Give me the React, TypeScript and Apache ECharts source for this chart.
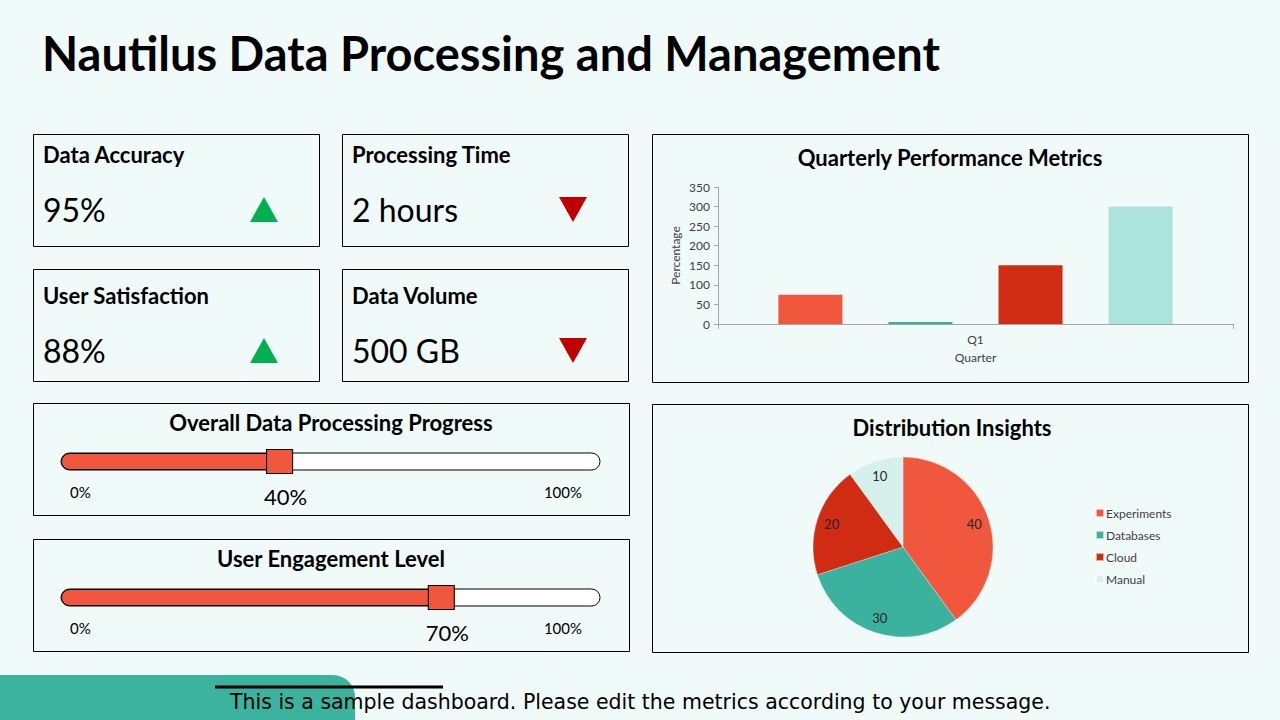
import React, { useEffect, useRef } from "react";
import * as echarts from "echarts";

const FONT = "Lato";

const pageTitle = "Nautilus Data Processing and Management";
const kpiTitles = ["Data Accuracy", "Processing Time", "User Satisfaction", "Data Volume"];
const kpiValues = ["95%", "2 hours", "88%", "500 GB"];
const kpiTrends = ["up", "down", "up", "down"];

const progressTitles = ["Overall Data Processing Progress", "User Engagement Level"];
const progressValues = [40, 70];

const barTitle = "Quarterly Performance Metrics";
const barCategories = ["Q1"];
const barSeriesNames = ["Metric 1", "Metric 2", "Metric 3", "Metric 4"];
const barValues = [75, 5, 150, 300];
const yTicks = { min: 0, max: 350, interval: 50 };

const pieTitle = "Distribution Insights";
const pieNames = ["Experiments", "Databases", "Cloud", "Manual"];
const pieValues = [40, 30, 20, 10];

const footerText = "This is a sample dashboard. Please edit the metrics according to your message.";

const ORANGE = "#F0573D";
const TEAL = "#3BB29E";
const DARKRED = "#D02C14";
const LIGHTTEAL = "#ACE3DA";
const PALE = "#D6F0EC";
const barColors = [ORANGE, TEAL, DARKRED, LIGHTTEAL];
const pieColors = [ORANGE, TEAL, DARKRED, PALE];
const BG = "#F0FAF8";

export default function App() {
  const ref = useRef<HTMLDivElement>(null);
  useEffect(() => {
    if (!ref.current) return;
    const chart = echarts.init(ref.current, undefined, { renderer: "svg" });

    const graphic: any[] = [];
    // page title
    graphic.push({
      type: "text",
      x: 42,
      y: 53,
      style: { text: pageTitle, font: `bold 47px ${FONT}`, fill: "#000", textVerticalAlign: "middle" },
    });
    // KPI cards
    const cardX = [33, 342];
    const cardY = [134, 269];
    const rowShift = [0, 6];
    kpiTitles.forEach((t, i) => {
      const x = cardX[i % 2];
      const row = Math.floor(i / 2);
      const y = cardY[row];
      const s = rowShift[row];
      graphic.push({
        type: "rect",
        shape: { x: x + 0.5, y: y + 0.5, width: 286, height: 112 },
        style: { fill: "none", stroke: "#000", lineWidth: 1 },
      });
      graphic.push({
        type: "text",
        x: x + 10,
        y: y + 20 + s,
        style: { text: t, font: `bold 22px ${FONT}`, fill: "#000", textVerticalAlign: "middle" },
      });
      graphic.push({
        type: "text",
        x: x + 10,
        y: y + 75 + s,
        style: { text: kpiValues[i], font: `32px ${FONT}`, fill: "#000", textVerticalAlign: "middle" },
      });
      const cx = x + 231;
      const pts =
        kpiTrends[i] === "up"
          ? [[cx - 14, y + 88 + s], [cx, y + 63 + s], [cx + 14, y + 88 + s]]
          : [[cx - 14, y + 63 + s], [cx + 14, y + 63 + s], [cx, y + 88 + s]];
      graphic.push({
        type: "polygon",
        shape: { points: pts },
        style: { fill: kpiTrends[i] === "up" ? "#00B050" : "#C00000" },
      });
    });
    // progress boxes
    const progY = [403, 539];
    progressTitles.forEach((t, i) => {
      const y = progY[i];
      graphic.push({
        type: "rect",
        shape: { x: 33.5, y: y + 0.5, width: 596, height: 112 },
        style: { fill: "none", stroke: "#000", lineWidth: 1 },
      });
      graphic.push({
        type: "text",
        x: 331,
        y: y + 19,
        style: { text: t, font: `bold 22px ${FONT}`, fill: "#000", textAlign: "center", textVerticalAlign: "middle" },
      });
      graphic.push({
        type: "text",
        x: 70,
        y: y + 89,
        style: { text: "0%", font: `15px ${FONT}`, fill: "#000", textVerticalAlign: "middle" },
      });
      graphic.push({
        type: "text",
        x: 582,
        y: y + 89,
        style: { text: "100%", font: `15px ${FONT}`, fill: "#000", textAlign: "right", textVerticalAlign: "middle" },
      });
    });
    // chart boxes
    [134, 404].forEach((y) => {
      graphic.push({
        type: "rect",
        shape: { x: 652.5, y: y + 0.5, width: 596, height: 248 },
        style: { fill: "none", stroke: "#000", lineWidth: 1 },
      });
    });
    graphic.push({
      type: "text",
      x: 950,
      y: 157,
      style: { text: barTitle, font: `bold 22px ${FONT}`, fill: "#000", textAlign: "center", textVerticalAlign: "middle" },
    });
    graphic.push({
      type: "text",
      x: 952,
      y: 427,
      style: { text: pieTitle, font: `bold 22px ${FONT}`, fill: "#000", textAlign: "center", textVerticalAlign: "middle" },
    });
    // footer
    graphic.push({
      type: "rect",
      shape: { x: 0, y: 675, width: 355, height: 70, r: [0, 22, 0, 0] },
      style: { fill: "#3BB39F" },
    });
    graphic.push({
      type: "rect",
      shape: { x: 215, y: 685.5, width: 228, height: 3 },
      style: { fill: "#000" },
    });
    graphic.push({
      type: "text",
      x: 230,
      y: 702,
      style: { text: footerText, font: `20.5px 'DejaVu Sans'`, fill: "#000", textVerticalAlign: "middle" },
    });

    const progGrids = progressValues.map((_, i) => ({
      left: 61,
      top: i === 0 ? 453 : 589,
      width: 539,
      height: 17,
    }));

    const option: any = {
      animation: false,
      backgroundColor: BG,
      textStyle: { fontFamily: FONT },
      graphic,
      grid: [
        { left: 718, right: 47, top: 187, bottom: 396 },
        ...progGrids,
      ],
      xAxis: [
        {
          type: "category",
          gridIndex: 0,
          data: barCategories,
          name: "Quarter",
          nameLocation: "middle",
          nameGap: 27,
          nameTextStyle: { fontSize: 12, color: "#404040", fontFamily: FONT },
          axisLine: { lineStyle: { color: "#A6A6A6" } },
          axisTick: { show: true, length: 5, lineStyle: { color: "#A6A6A6" } },
          axisLabel: { fontSize: 12, color: "#404040", margin: 9, fontFamily: FONT },
        },
        ...progGrids.map((_, i) => ({
          type: "value",
          gridIndex: i + 1,
          min: 0,
          max: 100,
          show: false,
        })),
      ],
      yAxis: [
        {
          type: "value",
          gridIndex: 0,
          min: yTicks.min,
          max: yTicks.max,
          interval: yTicks.interval,
          name: "Percentage",
          nameLocation: "middle",
          nameRotate: 90,
          nameGap: 37,
          nameTextStyle: { fontSize: 12, color: "#404040", fontFamily: FONT },
          axisLine: { show: true, lineStyle: { color: "#A6A6A6" } },
          axisTick: { show: true, length: 4, lineStyle: { color: "#A6A6A6" } },
          splitLine: { show: false },
          axisLabel: { fontSize: 12, color: "#404040", margin: 8, fontFamily: FONT },
        },
        ...progGrids.map((_, i) => ({
          type: "category",
          gridIndex: i + 1,
          data: [progressTitles[i]],
          show: false,
        })),
      ],
      legend: {
        data: pieNames,
        orient: "vertical",
        left: 1090,
        top: 502,
        itemWidth: 8,
        itemHeight: 8,
        itemGap: 10,
        icon: "rect",
        textStyle: { fontSize: 12, color: "#404040", fontFamily: FONT, padding: [0, 0, 0, -3] },
      },
      series: [
        ...barValues.map((v, i) => ({
          type: "bar",
          name: barSeriesNames[i],
          xAxisIndex: 0,
          yAxisIndex: 0,
          data: [v],
          barWidth: 64,
          barGap: "72%",
          itemStyle: { color: barColors[i] },
        })),
        ...progressValues.map((v, i) => ({
          type: "bar",
          name: progressTitles[i],
          xAxisIndex: i + 1,
          yAxisIndex: i + 1,
          data: [v],
          barWidth: 17,
          showBackground: true,
          backgroundStyle: { color: "#FFFFFF", borderColor: "#000", borderWidth: 1, borderRadius: 8.5 },
          itemStyle: { color: ORANGE, borderColor: "#000", borderWidth: 1, borderRadius: [8.5, 0, 0, 8.5] },
        })),
        ...progressValues.map((v, i) => ({
          type: "scatter",
          name: progressTitles[i] + " handle",
          xAxisIndex: i + 1,
          yAxisIndex: i + 1,
          data: [[v, 0]],
          symbol: "rect",
          symbolSize: [26, 24],
          symbolOffset: [3, 0],
          z: 5,
          itemStyle: { color: ORANGE, borderColor: "#000", borderWidth: 1, opacity: 1 },
          label: {
            show: true,
            position: "bottom",
            distance: 12,
            offset: [6, 0],
            formatter: (p: any) => p.value[0] + "%",
            fontSize: 22,
            color: "#000",
            fontFamily: FONT,
          },
        })),
        {
          type: "pie",
          name: pieTitle,
          center: [903, 547],
          radius: 90,
          startAngle: 90,
          clockwise: true,
          label: { show: false },
          labelLine: { show: false },
          itemStyle: { borderColor: "rgba(255,255,255,0.6)", borderWidth: 0.5 },
          data: pieNames.map((n, i) => ({ name: n, value: pieValues[i], itemStyle: { color: pieColors[i] } })),
        },
        {
          type: "pie",
          name: pieTitle + " labels",
          center: [903, 547],
          radius: [54, 90],
          startAngle: 90,
          clockwise: true,
          silent: true,
          legendHoverLink: false,
          itemStyle: { color: "rgba(0,0,0,0)" },
          label: { show: true, position: "inside", fontSize: 13, color: "#262626", fontFamily: FONT, formatter: "{c}" },
          labelLine: { show: false },
          data: pieNames.map((n, i) => ({ name: n + " ", value: pieValues[i] })),
        },
      ],
    };
    chart.setOption(option);
    return () => chart.dispose();
  }, []);
  return (
    <div
      ref={ref}
      style={{ position: "fixed", left: 0, top: 0, width: 1280, height: 720 }}
    />
  );
}
